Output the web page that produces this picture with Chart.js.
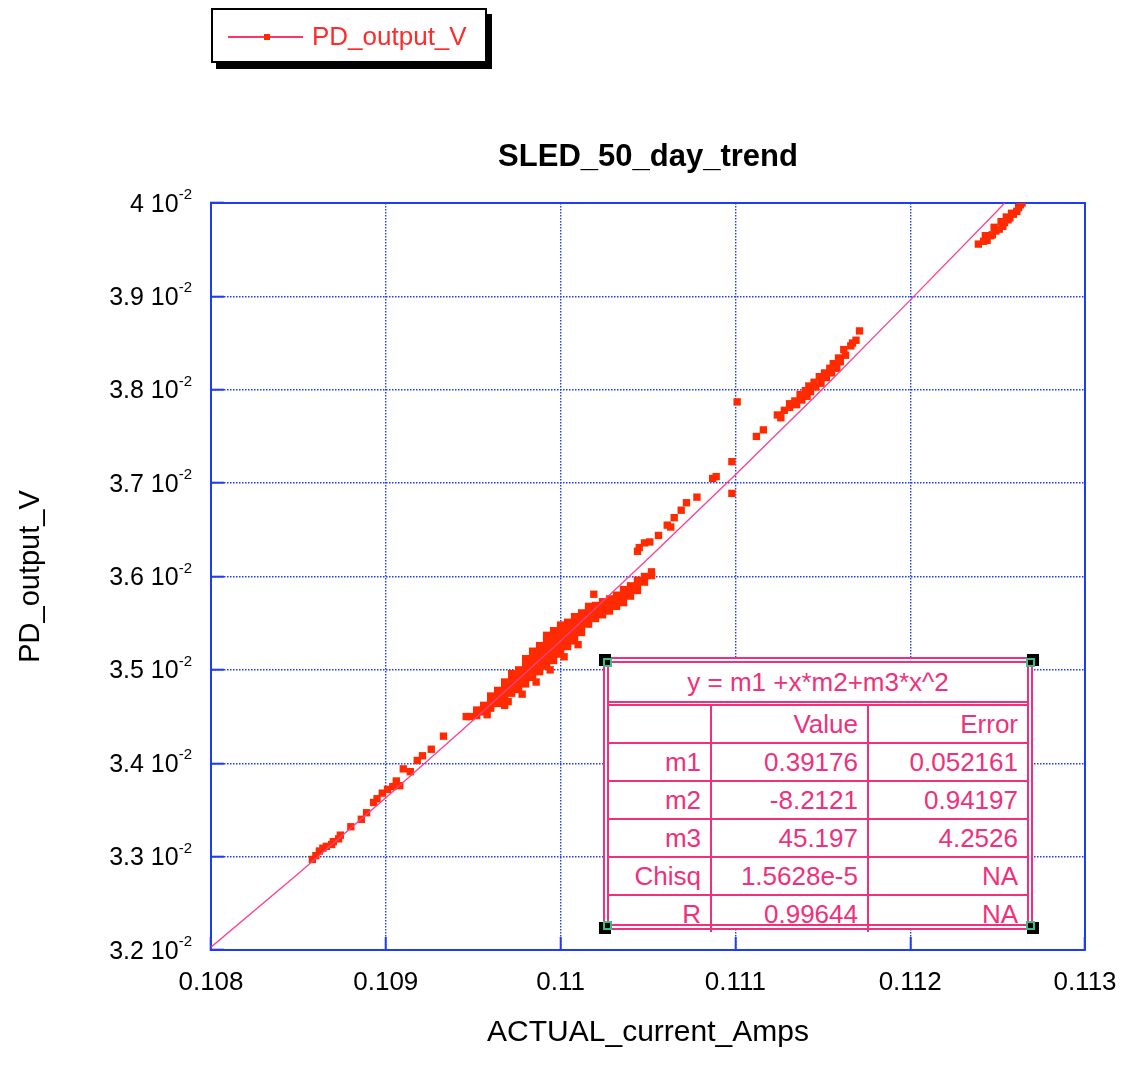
<!DOCTYPE html>
<html>
<head>
<meta charset="utf-8">
<title>SLED_50_day_trend</title>
<script src="https://cdn.jsdelivr.net/npm/chart.js@4.4.1/dist/chart.umd.min.js"></script>
<style>
  html, body { margin: 0; padding: 0; background: #fff; }
  #wrap { position: relative; width: 1125px; height: 1078px; overflow: hidden;
          font-family: "Liberation Sans", Arial, Helvetica, sans-serif; }
  #chart { position: absolute; left: 0; top: 0; }

  /* legend box with drop shadow, top left */
  #legend { position: absolute; left: 211px; top: 8px; width: 272px; height: 51px;
            border: 2px solid #000; background: #fff; box-shadow: 5px 6px 0 #000; }
  #legend .sample { position: absolute; left: 15px; top: 26px; width: 75px; height: 1.5px; background: #ff3366; }
  #legend .mark { position: absolute; left: 51px; top: 24px; width: 6px; height: 6px; background: #ff2a00; }
  #legend .txt { position: absolute; left: 99px; top: 13px; line-height: 26px; font-size: 26px; color: #ff2a2a; white-space: nowrap; }

  /* curve fit annotation */
  #fitbox { position: absolute; left: 603px; top: 657px; width: 430px; height: 273px; box-sizing: border-box;
            border: 6px double #f0307a; background: #fff; }
  #fitbox table { width: 100%; height: 100%; border-collapse: collapse; color: #f0307a; font-size: 26px; }
  #fitbox td { border: 2px solid #f0307a; text-align: right; padding: 0 9px 0 0; height: 36px; white-space: nowrap; }
  #fitbox tr:first-child td { border-top: none; border-left: none; border-right: none; border-bottom: 5px double #f0307a;
                              text-align: center; padding: 0; height: 38px; }
  #fitbox tr td:first-child { border-left: none; }
  #fitbox tr td:last-child { border-right: none; }
  #fitbox tr:last-child td { border-bottom: none; }
  .handle { position: absolute; width: 12px; height: 12px; background: #000; }
  .handle i { position: absolute; width: 5px; height: 5px; border: 2px solid #33c08a; }
</style>
</head>
<body>
<div id="wrap">
  <canvas id="chart" width="1125" height="1078"></canvas>
  <div id="legend"><div class="sample"></div><div class="mark"></div><div class="txt">PD_output_V</div></div>
  <div id="fitbox"></div>
</div>
<script>
// tick labels
var xTickLabels = ['0.108', '0.109', '0.11', '0.111', '0.112', '0.113'];
var yTickMantissa = ['3.2', '3.3', '3.4', '3.5', '3.6', '3.7', '3.8', '3.9', '4'];

var lowBranch = [
  [0.10858, 0.03297], [0.10860, 0.03301], [0.10862, 0.03306], [0.10864, 0.03309], [0.10866, 0.03311],
  [0.10869, 0.03313], [0.10870, 0.03316], [0.10873, 0.03319], [0.10874, 0.03323], [0.10880, 0.03332],
  [0.10886, 0.03340], [0.10889, 0.03347], [0.10893, 0.03358], [0.10895, 0.03362], [0.10898, 0.03368],
  [0.10901, 0.03372], [0.10904, 0.03375], [0.10906, 0.03381], [0.10908, 0.03376], [0.10910, 0.03394],
  [0.10914, 0.03391], [0.10918, 0.03403], [0.10921, 0.03408], [0.10926, 0.03415], [0.10933, 0.03429],
  [0.10946, 0.03450]
];

var mainBand = [
  [0.10948, 0.03450],
  [0.10952, 0.03451], [0.10952, 0.03457],
  [0.10956, 0.03455], [0.10956, 0.03462],
  [0.10960, 0.03459], [0.10960, 0.03466], [0.10960, 0.03472],
  [0.10964, 0.03464], [0.10964, 0.03471], [0.10964, 0.03478],
  [0.10968, 0.03469], [0.10968, 0.03476], [0.10968, 0.03483], [0.10968, 0.03487],
  [0.10972, 0.03475], [0.10972, 0.03482], [0.10972, 0.03489], [0.10972, 0.03496],
  [0.10976, 0.03479], [0.10976, 0.03486], [0.10976, 0.03493], [0.10976, 0.03500],
  [0.10980, 0.03485], [0.10980, 0.03492], [0.10980, 0.03499], [0.10980, 0.03506], [0.10980, 0.03512],
  [0.10984, 0.03492], [0.10984, 0.03499], [0.10984, 0.03506], [0.10984, 0.03513], [0.10984, 0.03520],
  [0.10988, 0.03498], [0.10988, 0.03505], [0.10988, 0.03512], [0.10988, 0.03519], [0.10988, 0.03526],
  [0.10992, 0.03504], [0.10992, 0.03511], [0.10992, 0.03518], [0.10992, 0.03525], [0.10992, 0.03532], [0.10992, 0.03537],
  [0.10996, 0.03510], [0.10996, 0.03517], [0.10996, 0.03524], [0.10996, 0.03531], [0.10996, 0.03538], [0.10996, 0.03542],
  [0.11000, 0.03517], [0.11000, 0.03524], [0.11000, 0.03531], [0.11000, 0.03538], [0.11000, 0.03545], [0.11000, 0.03548],
  [0.11004, 0.03525], [0.11004, 0.03532], [0.11004, 0.03539], [0.11004, 0.03546], [0.11004, 0.03551],
  [0.11008, 0.03531], [0.11008, 0.03538], [0.11008, 0.03545], [0.11008, 0.03552], [0.11008, 0.03557],
  [0.11012, 0.03540], [0.11012, 0.03547], [0.11012, 0.03554], [0.11012, 0.03561],
  [0.11016, 0.03549], [0.11016, 0.03556], [0.11016, 0.03563], [0.11016, 0.03568],
  [0.11020, 0.03555], [0.11020, 0.03562], [0.11020, 0.03569],
  [0.11024, 0.03559], [0.11024, 0.03566], [0.11024, 0.03573],
  [0.11028, 0.03563], [0.11028, 0.03570], [0.11028, 0.03576],
  [0.11032, 0.03568], [0.11032, 0.03575], [0.11032, 0.03580],
  [0.11036, 0.03572], [0.11036, 0.03579], [0.11036, 0.03586],
  [0.11040, 0.03579], [0.11040, 0.03586], [0.11040, 0.03590],
  [0.11044, 0.03585], [0.11044, 0.03592], [0.11044, 0.03596],
  [0.11048, 0.03594], [0.11048, 0.03600],
  [0.11052, 0.03601], [0.11052, 0.03605],
  // ragged lower edge of the band
  [0.10958, 0.03452], [0.10970, 0.03466], [0.10978, 0.03474], [0.10986, 0.03487],
  [0.10994, 0.03500], [0.11002, 0.03514], [0.11010, 0.03527]
];

var bridgePoints = [
  [0.10968, 0.03462], [0.11019, 0.03581], [0.11044, 0.03627], [0.11045, 0.03631], [0.11048, 0.03636],
  [0.11051, 0.03637], [0.11056, 0.03644], [0.11061, 0.03655], [0.11063, 0.03653], [0.11065, 0.03663],
  [0.11069, 0.03671], [0.11072, 0.03679], [0.11078, 0.03685], [0.11087, 0.03705], [0.11089, 0.03707],
  [0.11098, 0.03723], [0.11098, 0.03689], [0.11101, 0.03787]
];

var upperBranch = [
  [0.11112, 0.03750], [0.11116, 0.03757], [0.11124, 0.03773], [0.11126, 0.03770], [0.11128, 0.03778],
  [0.11131, 0.03785], [0.11131, 0.03781], [0.11134, 0.03788], [0.11135, 0.03784], [0.11137, 0.03795],
  [0.11138, 0.03789], [0.11140, 0.03799], [0.11141, 0.03793], [0.11142, 0.03804], [0.11143, 0.03798],
  [0.11145, 0.03808], [0.11146, 0.03803], [0.11148, 0.03814], [0.11149, 0.03807], [0.11151, 0.03818],
  [0.11152, 0.03813], [0.11154, 0.03823], [0.11155, 0.03818], [0.11156, 0.03828], [0.11158, 0.03823],
  [0.11159, 0.03834], [0.11160, 0.03830], [0.11162, 0.03843], [0.11163, 0.03837], [0.11166, 0.03847],
  [0.11167, 0.03850], [0.11169, 0.03853], [0.11171, 0.03863]
];

var topBranch = [
  [0.11239, 0.03956], [0.11242, 0.03959], [0.11243, 0.03965], [0.11244, 0.03960], [0.11246, 0.03965],
  [0.11247, 0.03966], [0.11248, 0.03974], [0.11249, 0.03970], [0.11251, 0.03972], [0.11252, 0.03980],
  [0.11253, 0.03975], [0.11254, 0.03979], [0.11255, 0.03985], [0.11256, 0.03982], [0.11257, 0.03984],
  [0.11258, 0.03989], [0.11259, 0.03988], [0.11261, 0.03991], [0.11262, 0.03995], [0.11263, 0.03998],
  [0.11264, 0.04000]
];

// fitted curve y = m1 + x*m2 + m3*x^2
var fitX = [0.108, 0.1085, 0.109, 0.1095, 0.110, 0.1105, 0.111, 0.1115, 0.112, 0.1125, 0.11254];
var fitY = [0.03203, 0.03282, 0.03363, 0.03446, 0.03531, 0.03619, 0.03709, 0.03801, 0.03896, 0.03992, 0.04000];

// curve fit table
var fitTitle = 'y = m1 +x*m2+m3*x^2';
var fitNames = ['m1', 'm2', 'm3', 'Chisq', 'R'];
var fitValues = ['0.39176', '-8.2121', '45.197', '1.5628e-5', '0.99644'];
var fitErrors = ['0.052161', '0.94197', '4.2526', 'NA', 'NA'];

var FONT = '"Liberation Sans", Arial, Helvetica, sans-serif';
var BLUE = '#1f3cf5';

function toPoints(list) {
  return list.map(function(p) { return { x: p[0], y: p[1] }; });
}

var measured = [].concat(toPoints(lowBranch), toPoints(mainBand), toPoints(bridgePoints),
                         toPoints(upperBranch), toPoints(topBranch));
var fitLine = fitX.map(function(x, i) { return { x: x, y: fitY[i] }; });

// top / right frame and the "x 10^-2" labels on the left axis
var framePlugin = {
  id: 'igorFrame',
  beforeDatasetsDraw: function(chart) {
    var a = chart.chartArea, ctx = chart.ctx;
    ctx.save();
    ctx.strokeStyle = BLUE;
    ctx.lineWidth = 2;
    ctx.beginPath();
    ctx.moveTo(a.left, a.top);
    ctx.lineTo(a.right, a.top);
    ctx.lineTo(a.right, a.bottom);
    ctx.stroke();
    ctx.restore();
  },
  afterDraw: function(chart) {
    var ys = chart.scales.y, ctx = chart.ctx;
    ctx.save();
    ctx.fillStyle = '#000';
    ctx.textAlign = 'right';
    ctx.textBaseline = 'alphabetic';
    ys.ticks.forEach(function(t) {
      var idx = Math.round(t.value * 1000) - 32;
      var py = ys.getPixelForValue(t.value);
      var right = 192;
      ctx.font = '15px ' + FONT;
      ctx.fillText('-2', right, py - 4);
      var w = ctx.measureText('-2').width;
      ctx.font = '25px ' + FONT;
      ctx.fillText(yTickMantissa[idx] + ' 10', right - w, py + 8.5);
    });
    ctx.restore();
  }
};

var ctx = document.getElementById('chart').getContext('2d');
var chart = new Chart(ctx, {
  type: 'scatter',
  data: {
    datasets: [{
      label: 'fit',
      data: fitLine,
      showLine: true,
      borderColor: '#ff3f8e',
      borderWidth: 1.3,
      pointRadius: 0,
      order: 0
    }, {
      label: 'PD_output_V',
      data: measured,
      pointStyle: 'rect',
      pointRadius: 5.2,
      backgroundColor: '#ff2a00',
      borderWidth: 0,
      order: 1
    }]
  },
  options: {
    responsive: false,
    animation: false,
    devicePixelRatio: 1,
    layout: { padding: { left: 0, right: 40, top: 0, bottom: 0 } },
    plugins: {
      legend: { display: false },
      tooltip: { enabled: false },
      title: {
        display: true,
        fullSize: false,
        text: 'SLED_50_day_trend',
        color: '#000',
        font: { family: FONT, size: 31, weight: 'bold' },
        padding: { top: 138.4, bottom: 27.4 }
      }
    },
    scales: {
      x: {
        type: 'linear',
        position: 'bottom',
        min: 0.108,
        max: 0.113,
        afterFit: function(s) { s.height = 128; s.paddingLeft = 0; s.paddingRight = 0; },
        ticks: {
          stepSize: 0.001,
          color: '#000',
          font: { family: FONT, size: 26 },
          padding: 30,
          maxRotation: 0,
          callback: function(v) { return xTickLabels[Math.round(v * 1000) - 108]; }
        },
        grid: { color: BLUE, lineWidth: 1.4, tickColor: BLUE, tickWidth: 2, tickLength: -13 },
        border: { display: true, color: BLUE, width: 2, dash: [1.5, 1.5] },
        title: {
          display: true,
          text: 'ACTUAL_current_Amps',
          color: '#000',
          font: { family: FONT, size: 30 },
          padding: { top: 0, bottom: 27 }
        }
      },
      y: {
        type: 'linear',
        position: 'left',
        min: 0.032,
        max: 0.040,
        afterFit: function(s) { s.width = 211; s.paddingTop = 0; s.paddingBottom = 0; },
        ticks: { stepSize: 0.001, display: false },
        grid: { color: BLUE, lineWidth: 1.4, tickColor: BLUE, tickWidth: 2, tickLength: -13 },
        border: { display: true, color: BLUE, width: 2, dash: [1.5, 1.5] },
        title: {
          display: true,
          text: 'PD_output_V',
          color: '#000',
          font: { family: FONT, size: 29 },
          padding: { top: 14, bottom: 0 }
        }
      }
    }
  },
  plugins: [framePlugin]
});

// build the fit table annotation from the arrays
function buildFitTable() {
  var box = document.getElementById('fitbox');
  var html = '<table><tr><td colspan="3">' + fitTitle + '</td></tr>';
  html += '<tr><td style="width:92px"></td><td style="width:146px">Value</td><td>Error</td></tr>';
  for (var i = 0; i < fitNames.length; i++) {
    html += '<tr><td>' + fitNames[i] + '</td><td>' + fitValues[i] + '</td><td>' + fitErrors[i] + '</td></tr>';
  }
  html += '</table>';
  box.innerHTML = html;

  // selection handles on the corners
  var wrap = document.getElementById('wrap');
  var corners = [[605, 660], [1033, 660], [605, 928], [1033, 928]];
  corners.forEach(function(c, k) {
    var h = document.createElement('div');
    h.className = 'handle';
    h.style.left = (c[0] - 6) + 'px';
    h.style.top = (c[1] - 6) + 'px';
    var inner = document.createElement('i');
    inner.style.left = (k % 2 === 0 ? 4 : -1) + 'px';
    inner.style.top = (k < 2 ? 4 : -1) + 'px';
    h.appendChild(inner);
    wrap.appendChild(h);
  });
}
buildFitTable();
</script>
</body>
</html>
